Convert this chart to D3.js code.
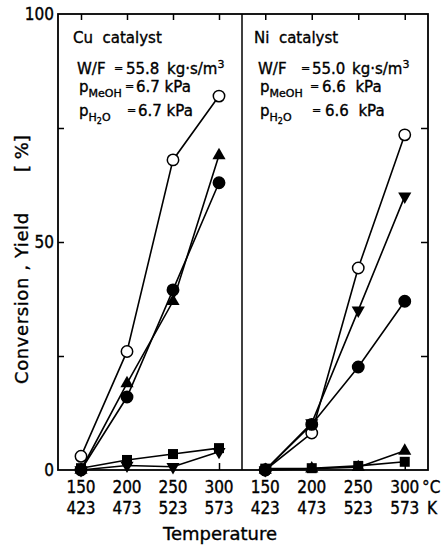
<!DOCTYPE html>
<html>
<head>
<meta charset="utf-8">
<script src="https://cdn.jsdelivr.net/npm/d3@7"></script>
<style>
body { margin: 0; background: #fff; }
svg text { fill: #000; stroke: #000; stroke-width: 0.35px; font-family: "DejaVu Sans", sans-serif; }
.tk { font-family: "Liberation Sans Narrow", "DejaVu Sans Condensed", "Liberation Sans", sans-serif; font-size: 17px; }
</style>
</head>
<body>
<div id="chart"></div>
<script>
// Data
var tempsC = [150, 200, 250, 300];
var tempsK = [423, 473, 523, 573];
var yTickLabels = [0, 50, 100];

var cuOpenCircle = [3, 26, 68, 82];
var cuTriangle = [0, 19, 37, 69];
var cuCircle = [0, 16, 39.5, 63];
var cuSquare = [0.4, 2.2, 3.5, 4.8];
var cuTriangleDown = [0, 1, 0.7, 4];

var niOpenCircle = [0, 8.1, 44.3, 73.5];
var niTriangleDown = [0, 10.3, 35, 60];
var niCircle = [0, 10, 22.6, 37];
var niSquare = [0.3, 0.4, 0.9, 1.8];
var niTriangle = [0, 0.3, 0.6, 4.2];

var svg = d3.select("#chart")
    .append("svg")
    .attr("width", 447)
    .attr("height", 549);

var y = d3.scaleLinear().domain([0, 100]).range([470, 14]);
var xCu = d3.scaleLinear().domain([125, 325]).range([58, 242]);
var xNi = d3.scaleLinear().domain([125, 325]).range([242, 428]);

function drawAxes(x) {
    var top = svg.append("g").attr("transform", "translate(0,14)")
        .call(d3.axisTop(x).tickValues(tempsC).tickSize(-6).tickFormat(""));
    var bot = svg.append("g").attr("transform", "translate(0,470)")
        .call(d3.axisBottom(x).tickValues(tempsC).tickSize(-7).tickFormat(""));
    [top, bot].forEach(function(g) {
        g.select(".domain").remove();
        g.selectAll("line").attr("stroke", "#000").attr("stroke-width", 1.5);
    });
    svg.append("g").selectAll("text")
        .data(tempsC)
        .enter()
        .append("text")
        .attr("class", "tk")
        .attr("x", function(d) { return x(d); })
        .attr("y", 493)
        .attr("text-anchor", "middle")
        .text(function(d) { return d; });
    svg.append("g").selectAll("text")
        .data(tempsK)
        .enter()
        .append("text")
        .attr("class", "tk")
        .attr("x", function(d, i) { return x(tempsC[i]); })
        .attr("y", 514)
        .attr("text-anchor", "middle")
        .text(function(d) { return d; });
}
drawAxes(xCu);
drawAxes(xNi);

var yl = svg.append("g").attr("transform", "translate(58,0)")
    .call(d3.axisLeft(y).tickValues([25, 50, 75]).tickSize(-6).tickFormat(""));
var yr = svg.append("g").attr("transform", "translate(428,0)")
    .call(d3.axisRight(y).tickValues([25, 50, 75]).tickSize(-7).tickFormat(""));
[yl, yr].forEach(function(g) {
    g.select(".domain").remove();
    g.selectAll("line").attr("stroke", "#000").attr("stroke-width", 1.5);
});

svg.append("g").selectAll("text")
    .data(yTickLabels)
    .enter()
    .append("text")
    .attr("class", "tk")
    .attr("x", 54)
    .attr("y", function(d) { return y(d) + 6; })
    .attr("text-anchor", "end")
    .text(function(d) { return d; });

// frame
svg.append("rect")
    .attr("x", 58).attr("y", 14)
    .attr("width", 370).attr("height", 456)
    .attr("fill", "none")
    .attr("stroke", "#000")
    .attr("stroke-width", 1.8);
svg.append("line")
    .attr("x1", 242).attr("x2", 242)
    .attr("y1", 14).attr("y2", 470)
    .attr("stroke", "#000")
    .attr("stroke-width", 1.5);

// unit labels
svg.append("text").attr("class", "tk").attr("x", 422).attr("y", 493).text("°C");
svg.append("text").attr("class", "tk").attr("x", 427).attr("y", 514).text("K");

svg.append("text")
    .attr("x", 220).attr("y", 540)
    .attr("text-anchor", "middle")
    .style("font-size", "18px")
    .text("Temperature");

svg.append("text")
    .attr("transform", "translate(28,384) rotate(-90)")
    .style("font-size", "18px")
    .style("letter-spacing", "0.6px")
    .text("Conversion , Yield");
svg.append("text")
    .attr("transform", "translate(28,172) rotate(-90)")
    .style("font-size", "18px")
    .attr("xml:space", "preserve")
    .text("[ %]");

// annotations
function note(x0, cat, wf, eq, val, xUnit, pm, ph) {
    svg.append("text").attr("x", x0).attr("y", 43).style("font-size", "15px")
        .attr("xml:space", "preserve").text(cat);

    var t = svg.append("text").attr("x", x0 + 4).attr("y", 74).style("font-size", "15px");
    t.append("tspan").text("W/F");
    svg.append("text").attr("x", eq[0]).attr("y", 72).style("font-size", "11px").text("=");
    svg.append("text").attr("x", val[0]).attr("y", 74).style("font-size", "15px").text(wf);
    var u = svg.append("text").attr("x", xUnit).attr("y", 74).style("font-size", "15px");
    u.append("tspan").text("kg·s/m");
    u.append("tspan").attr("dy", -6).style("font-size", "11px").text("3");

    var p1 = svg.append("text").attr("x", x0 + 6).attr("y", 92).style("font-size", "15px");
    p1.append("tspan").text("p");
    p1.append("tspan").attr("dy", 5).style("font-size", "11px").text("MeOH");
    svg.append("text").attr("x", eq[1]).attr("y", 90).style("font-size", "11px").text("=");
    svg.append("text").attr("x", val[1]).attr("y", 92).style("font-size", "15px")
        .attr("xml:space", "preserve").text(pm);

    var p2 = svg.append("text").attr("x", x0 + 6).attr("y", 116).style("font-size", "15px");
    p2.append("tspan").text("p");
    p2.append("tspan").attr("dy", 5).style("font-size", "11px").text("H");
    p2.append("tspan").attr("dy", 3).style("font-size", "8px").text("2");
    p2.append("tspan").attr("dy", -3).style("font-size", "11px").text("O");
    svg.append("text").attr("x", eq[2]).attr("y", 114).style("font-size", "11px").text("=");
    svg.append("text").attr("x", val[2]).attr("y", 116).style("font-size", "15px")
        .attr("xml:space", "preserve").text(ph);
}
note(73, "Cu  catalyst", "55.8", [114, 125, 127], [126, 136, 138], 167, "6.7 kPa", "6.7 kPa");
note(254, "Ni  catalyst", "55.0", [301, 310, 312], [312, 322, 325], 352, "6.6  kPa", "6.6  kPa");

// series
var lineGen = d3.line();
function drawSeries(x, vals, kind) {
    var pts = vals.map(function(v, i) { return [x(tempsC[i]), y(v)]; });
    svg.append("path")
        .attr("d", lineGen(pts))
        .attr("fill", "none")
        .attr("stroke", "#000")
        .attr("stroke-width", 1.6);
    var g = svg.append("g");
    pts.forEach(function(p) {
        if (kind === "open" || kind === "circle") {
            g.append("circle")
                .attr("cx", p[0]).attr("cy", p[1]).attr("r", 5.7)
                .attr("fill", kind === "open" ? "#fff" : "#000")
                .attr("stroke", "#000").attr("stroke-width", 1.5);
        } else {
            var sym = kind === "square" ? d3.symbol(d3.symbolSquare, 100) : d3.symbol(d3.symbolTriangle, 75);
            g.append("path")
                .attr("d", sym())
                .attr("fill", "#000")
                .attr("transform", "translate(" + p[0] + "," + p[1] + ")" + (kind === "down" ? " rotate(180)" : ""));
        }
    });
}
drawSeries(xCu, cuOpenCircle, "open");
drawSeries(xCu, cuSquare, "square");
drawSeries(xCu, cuTriangleDown, "down");
drawSeries(xCu, cuCircle, "circle");
drawSeries(xCu, cuTriangle, "up");

drawSeries(xNi, niOpenCircle, "open");
drawSeries(xNi, niSquare, "square");
drawSeries(xNi, niTriangle, "up");
drawSeries(xNi, niTriangleDown, "down");
drawSeries(xNi, niCircle, "circle");
</script>
</body>
</html>
